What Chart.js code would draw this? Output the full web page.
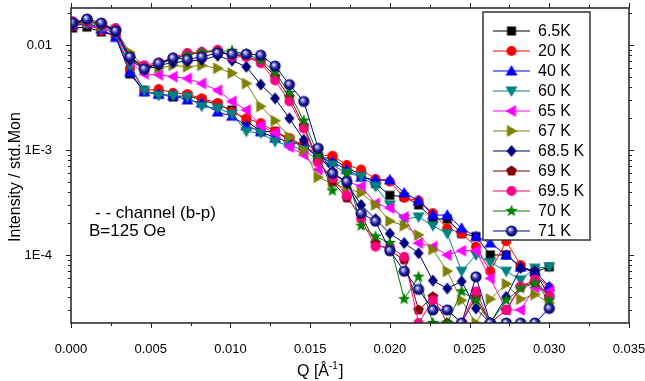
<!DOCTYPE html>
<html>
<head>
<meta charset="utf-8">
<script src="https://cdn.jsdelivr.net/npm/chart.js@4.4.0/dist/chart.umd.min.js"></script>
<style>
body { margin: 0; background: #fff; }
canvas { display: block; }
</style>
</head>
<body>
<canvas id="mycanvas" width="645" height="381"></canvas>
<script>
// Q values (1/Angstrom)
var q = [0.0001, 0.0010, 0.0019, 0.0028, 0.0037, 0.0046, 0.0055, 0.0064, 0.0073, 0.0082, 0.0092, 0.0101,
	0.0110, 0.0119, 0.0128, 0.0137, 0.0146, 0.0155, 0.0164, 0.0173, 0.0182, 0.0191, 0.0200, 0.0209,
	0.0218, 0.0227, 0.0236, 0.0245, 0.0254, 0.0263, 0.0273, 0.0282, 0.0291, 0.0300];

var names = ['6.5K', '20 K', '40 K', '60 K', '65 K', '67 K', '68.5 K', '69 K', '69.5 K', '70 K', '71 K'];

var k6_5 = [0.0145, 0.0148, 0.0133, 0.0123, 0.0053, 0.0036, 0.0034, 0.0032, 0.0033, 0.0030, 0.0027, 0.0024,
	0.0019, 0.0015, 0.0015, 0.00125, 0.0011, 0.00085, 0.00083, 0.00068, 0.00058, 0.00048, 0.00037, 0.00036,
	0.00030, 0.00022, 0.00022, 0.00016, 0.00015, 0.00010, 0.00010, 0.000077, 0.000069, 0.000077];
var k20 = [0.0152, 0.0158, 0.0137, 0.0122, 0.0060, 0.0037, 0.0038, 0.0035, 0.0034, 0.0031, 0.0028, 0.0023,
	0.0020, 0.0018, 0.0015, 0.0013, 0.0011, 0.00090, 0.00088, 0.00072, 0.00065, 0.00053, 0.00050, 0.00035,
	0.00033, 0.00025, 0.00018, 0.00016, 0.00012, 0.000070, 0.000135, 0.000080, 0.000065, 0.000049];
var k40 = [0.0155, 0.0160, 0.0142, 0.0118, 0.0055, 0.0036, 0.0034, 0.0033, 0.0030, 0.0028, 0.0023, 0.0021,
	0.0017, 0.0015, 0.0013, 0.0012, 0.0011, 0.00085, 0.00077, 0.00065, 0.00055, 0.00052, 0.00052, 0.00039,
	0.00033, 0.00024, 0.00024, 0.00018, 0.00015, 0.00013, 0.00010, 0.000077, 0.000070, 0.000050];
var k60 = [0.0157, 0.0162, 0.0145, 0.0128, 0.0064, 0.0037, 0.0033, 0.0033, 0.0032, 0.0026, 0.0025, 0.0022,
	0.0015, 0.00145, 0.0012, 0.0011, 0.0010, 0.00080, 0.00072, 0.00060, 0.00056, 0.00045, 0.00030, 0.00022,
	0.00023, 0.00019, 0.00016, 0.000070, 0.00010, 0.000085, 0.000070, 0.000058, 0.000075, 0.000077];
var k65 = [0.0160, 0.0165, 0.0150, 0.0132, 0.0070, 0.0053, 0.0052, 0.0050, 0.0048, 0.0043, 0.0037, 0.0029,
	0.0024, 0.0017, 0.00145, 0.00107, 0.00090, 0.00065, 0.00058, 0.00050, 0.00045, 0.00031, 0.00028, 0.00023,
	0.00013, 0.00012, 0.00010, 0.00011, 0.00011, 0.000060, 0.000030, 0.000030, 0.000049, 0.000045];
var k67 = [0.0158, 0.0163, 0.0152, 0.0138, 0.0085, 0.0062, 0.0060, 0.0064, 0.0062, 0.0064, 0.0060, 0.0054,
	0.0043, 0.0026, 0.0019, 0.00133, 0.0010, 0.00055, 0.00048, 0.00043, 0.00039, 0.00030, 0.00021, 0.00019,
	0.000155, 0.000113, 0.000070, 0.000037, 0.0000225, 0.000038, 0.000053, 0.000038, 0.000042, 0.000035];
var k68_5 = [0.0158, 0.0170, 0.0155, 0.0135, 0.0072, 0.0058, 0.0064, 0.0068, 0.0070, 0.0072, 0.0079, 0.0071,
	0.0062, 0.0042, 0.0031, 0.0020, 0.00125, 0.00090, 0.00062, 0.00048, 0.00030, 0.00022, 0.00016, 0.00013,
	0.000104, 0.000057, 0.000048, 0.000056, 0.000031, 0.0000225, 0.000040, 0.000075, 0.000070, 0.000040];
var k69 = [0.0165, 0.0170, 0.0157, 0.0140, 0.0075, 0.0062, 0.0066, 0.0074, 0.0082, 0.0085, 0.0088, 0.0080,
	0.0078, 0.0070, 0.0050, 0.0032, 0.0017, 0.00080, 0.00050, 0.00035, 0.00024, 0.00013, 0.00011, 0.000090,
	0.000030, 0.000040, 0.0000225, 0.0000225, 0.000040, 0.0000225, 0.000030, 0.000050, 0.000055, 0.000040];
var k69_5 = [0.0168, 0.0170, 0.0158, 0.0145, 0.0076, 0.0064, 0.0068, 0.0076, 0.0084, 0.0086, 0.0090, 0.0077,
	0.0077, 0.0067, 0.0046, 0.0029, 0.0016, 0.00077, 0.00054, 0.00037, 0.00022, 0.00012, 0.00012, 0.000096,
	0.0000225, 0.000037, 0.000030, 0.0000225, 0.000045, 0.0000225, 0.000030, 0.000050, 0.000058, 0.000040];
var k70 = [0.0162, 0.0172, 0.0155, 0.0140, 0.0074, 0.0060, 0.0066, 0.0073, 0.0080, 0.0085, 0.0087, 0.0088,
	0.0082, 0.0072, 0.0055, 0.0035, 0.0019, 0.00090, 0.00041, 0.00060, 0.00019, 0.00015, 0.00013, 0.000038,
	0.000062, 0.0000225, 0.0000225, 0.000045, 0.000037, 0.0000225, 0.000037, 0.000048, 0.000054, 0.000037];
var k71 = [0.0163, 0.0177, 0.0162, 0.0136, 0.0077, 0.0059, 0.0067, 0.0075, 0.0073, 0.0077, 0.0084, 0.0082,
	0.0082, 0.0080, 0.0063, 0.0042, 0.0029, 0.00104, 0.00060, 0.00050, 0.00025, 0.00021, 0.00011, 0.000070,
	0.000047, 0.000030, 0.000030, 0.0000225, 0.000062, 0.0000225, 0.0000225, 0.0000225, 0.0000225, 0.000031];

var series = [k6_5, k20, k40, k60, k65, k67, k68_5, k69, k69_5, k70, k71];
var colors = ['#000000', '#ff0000', '#0000ff', '#008080', '#ff00ff', '#808000', '#000080', '#800000', '#ff0080', '#008000', '#00008c'];
var shapes = ['square', 'circle', 'up', 'down', 'left', 'right', 'diamond', 'pentagon', 'circle', 'star', 'ball'];

var FONT = "'Liberation Sans', Arial, sans-serif";

function poly(g, pts) {
	g.moveTo(pts[0][0], pts[0][1]);
	for (var i = 1; i < pts.length; i++) g.lineTo(pts[i][0], pts[i][1]);
	g.closePath();
}

// marker images, drawn once and used as pointStyle
function marker(shape, color) {
	var c = document.createElement('canvas');
	c.width = 16; c.height = 16;
	var g = c.getContext('2d');
	g.translate(8, 8);
	g.fillStyle = color;
	g.beginPath();
	if (shape == 'square') g.rect(-4.5, -4.5, 9, 9);
	else if (shape == 'circle') g.arc(0, 0, 5, 0, Math.PI * 2);
	else if (shape == 'up') poly(g, [[0, -6], [6, 4.5], [-6, 4.5]]);
	else if (shape == 'down') poly(g, [[-6, -4.5], [6, -4.5], [0, 6]]);
	else if (shape == 'left') poly(g, [[-6, 0], [4.5, -6], [4.5, 6]]);
	else if (shape == 'right') poly(g, [[6, 0], [-4.5, -6], [-4.5, 6]]);
	else if (shape == 'diamond') poly(g, [[0, -6], [5, 0], [0, 6], [-5, 0]]);
	else if (shape == 'pentagon' || shape == 'star') {
		var pts = [], n = shape == 'star' ? 10 : 5;
		for (var i = 0; i < n; i++) {
			var a = -Math.PI / 2 + i * 2 * Math.PI / n;
			var r = shape == 'star' ? (i % 2 ? 2.7 : 6.5) : 5.6;
			pts.push([r * Math.cos(a), r * Math.sin(a)]);
		}
		poly(g, pts);
	} else if (shape == 'ball') {
		var grd = g.createRadialGradient(-1.6, -1.8, 0.2, 0, 0, 5.6);
		grd.addColorStop(0, '#ffffff');
		grd.addColorStop(0.25, '#9090d8');
		grd.addColorStop(0.6, '#1c1ca0');
		grd.addColorStop(1, '#00005a');
		g.fillStyle = grd;
		g.arc(0, 0, 5.6, 0, Math.PI * 2);
	}
	g.fill();
	return c;
}

var images = shapes.map(function(s, i) { return marker(s, colors[i]); });

var datasets = series.map(function(vals, i) {
	return {
		label: names[i],
		data: q.map(function(x, j) { return {x: x, y: vals[j]}; }),
		borderColor: colors[i],
		backgroundColor: colors[i],
		borderWidth: 1,
		pointStyle: images[i],
		pointRadius: 6,
		order: series.length - i
	};
});

var decorPlugin = {
	id: 'decor',
	afterDraw: function(chart) {
		var ctx = chart.ctx, a = chart.chartArea, xs = chart.scales.x, ys = chart.scales.y;
		ctx.save();
		function seg(x1, y1, x2, y2) { ctx.beginPath(); ctx.moveTo(x1, y1); ctx.lineTo(x2, y2); ctx.stroke(); }

		// frame and ticks on all four sides
		ctx.strokeStyle = '#222';
		ctx.lineWidth = 1.5;
		ctx.strokeRect(a.left, a.top, a.right - a.left, a.bottom - a.top);
		ctx.lineWidth = 1;
		for (var k = 0; k <= 14; k++) {
			var px = Math.round(xs.getPixelForValue(k * 0.0025)) + 0.5, len = k % 2 ? 3 : 5;
			seg(px, a.bottom, px, a.bottom + len);
			seg(px, a.top, px, a.top - len);
		}
		for (var e = -5; e <= -2; e++) {
			for (var m = 1; m <= 9; m++) {
				var v = m * Math.pow(10, e);
				if (v < ys.min || v > ys.max) continue;
				var py = Math.round(ys.getPixelForValue(v)) + 0.5, l2 = m == 1 ? 5 : 3;
				seg(a.left - l2, py, a.left, py);
				seg(a.right, py, a.right + l2, py);
			}
		}

		// axis titles
		ctx.fillStyle = '#000';
		ctx.font = '16px ' + FONT;
		ctx.textBaseline = 'middle';
		ctx.textAlign = 'center';
		ctx.save();
		ctx.translate(16, a.top + 169);
		ctx.rotate(-Math.PI / 2);
		ctx.fillText('Intensity / std.Mon', 0, 0);
		ctx.restore();

		ctx.textAlign = 'left';
		ctx.textBaseline = 'alphabetic';
		var tx = 297, ty = 376;
		ctx.fillText('Q [Å', tx, ty);
		tx += ctx.measureText('Q [Å').width;
		ctx.font = '10px ' + FONT;
		ctx.fillText('-1', tx, ty - 7);
		tx += ctx.measureText('-1').width + 1;
		ctx.font = '16px ' + FONT;
		ctx.fillText(']', tx, ty);

		// note
		ctx.font = '17px ' + FONT;
		ctx.fillText('- - channel (b-p)', a.left + 24, 218);
		ctx.fillText('B=125 Oe', a.left + 18, 236);

		// legend box
		var bx = a.right - 146, by = a.top + 4, bw = 107, bh = 228;
		ctx.fillStyle = '#fff';
		ctx.fillRect(bx, by, bw, bh);
		ctx.strokeStyle = '#333';
		ctx.lineWidth = 1.5;
		ctx.strokeRect(bx, by, bw, bh);
		ctx.font = '16px ' + FONT;
		ctx.textBaseline = 'middle';
		for (var i = 0; i < names.length; i++) {
			var iy = by + 19 + i * 20;
			ctx.strokeStyle = colors[i];
			ctx.lineWidth = 1.2;
			seg(bx + 10, iy, bx + 47, iy);
			ctx.drawImage(images[i], bx + 28.5 - 8, iy - 8);
			ctx.fillStyle = '#000';
			ctx.fillText(names[i], bx + 55, iy + 1);
		}
		ctx.restore();
	}
};

Chart.defaults.font.family = FONT;
Chart.defaults.color = '#000';

var ctx = document.getElementById('mycanvas');
var chart = new Chart(ctx, {
	type: 'line',
	data: {datasets: datasets},
	options: {
		responsive: false,
		animation: false,
		events: [],
		layout: {padding: {top: 8, right: 16, left: 0, bottom: 0}},
		plugins: {legend: {display: false}, tooltip: {enabled: false}},
		scales: {
			x: {
				type: 'linear',
				min: 0,
				max: 0.035,
				grid: {display: false},
				border: {display: false},
				ticks: {
					stepSize: 0.005,
					autoSkip: false,
					maxRotation: 0,
					padding: 11,
					font: {size: 13},
					callback: function(v) { return v.toFixed(3); }
				},
				afterFit: function(s) {
					s.height = 58;
					s.paddingLeft = 0;
					s.paddingRight = 0;
				}
			},
			y: {
				type: 'logarithmic',
				min: 0.0000225,
				max: 0.0225,
				grid: {display: false},
				border: {display: false},
				ticks: {
					autoSkip: false,
					padding: 11,
					font: {size: 13},
					callback: function(v) {
						var lg = Math.log10(v);
						if (Math.abs(lg - Math.round(lg)) > 1e-6) return '';
						var p = Math.round(lg);
						return p == -2 ? '0.01' : '1E' + p;
					}
				},
				afterFit: function(s) {
					s.width = 71;
					s.paddingTop = 0;
					s.paddingBottom = 0;
				}
			}
		}
	},
	plugins: [decorPlugin]
});
</script>
</body>
</html>
